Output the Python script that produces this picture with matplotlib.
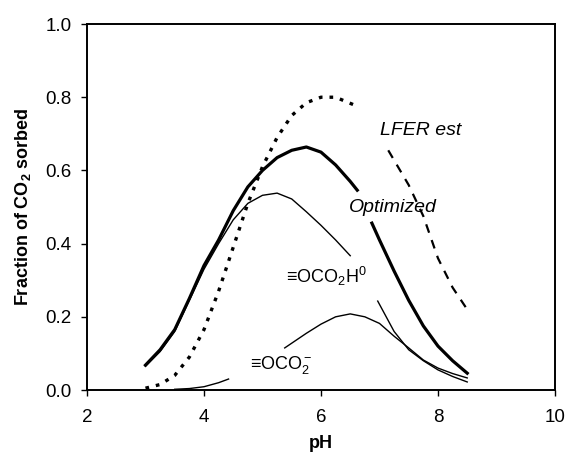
import matplotlib
matplotlib.use("Agg")
import matplotlib.pyplot as plt

plt.rcParams['font.family'] = ['Liberation Sans', 'DejaVu Sans']
plt.rcParams['mathtext.fontset'] = 'custom'
plt.rcParams['mathtext.rm'] = 'Liberation Sans'
plt.rcParams['mathtext.it'] = 'Liberation Sans:italic'
plt.rcParams['mathtext.bf'] = 'Liberation Sans:bold'

# ---- data ----
# Optimized total (thick solid), drawn in two pieces around its label
opt_ph_a = [3.0, 3.25, 3.5, 3.75, 4.0, 4.25, 4.5, 4.75, 5.0, 5.25, 5.5, 5.75, 6.0, 6.25, 6.5, 6.62]
opt_a = [0.068, 0.11, 0.165, 0.25, 0.34, 0.41, 0.49, 0.555, 0.60, 0.635, 0.655, 0.664, 0.65, 0.615, 0.57, 0.546]
opt_ph_b = [6.87, 7.0, 7.25, 7.5, 7.75, 8.0, 8.25, 8.5]
opt_b = [0.456, 0.41, 0.325, 0.245, 0.175, 0.12, 0.08, 0.046]

# LFER estimate (dotted, then dashed)
lfer_ph_a = [3.0, 3.25, 3.5, 3.75, 4.0, 4.25, 4.5, 4.75, 5.0, 5.25, 5.5, 5.75, 6.0, 6.25, 6.55]
lfer_a = [0.005, 0.015, 0.04, 0.09, 0.165, 0.27, 0.39, 0.51, 0.61, 0.69, 0.75, 0.785, 0.80, 0.80, 0.78]
lfer_ph_b = [7.15, 7.5, 7.75, 8.0, 8.25, 8.5]
lfer_b = [0.655, 0.56, 0.475, 0.36, 0.28, 0.22]

# =OCO2H0 species (thin solid)
h0_ph_a = [3.0, 3.25, 3.5, 3.75, 4.0, 4.25, 4.5, 4.75, 5.0, 5.25, 5.5, 5.75, 6.0, 6.25, 6.5]
h0_a = [0.065, 0.105, 0.16, 0.245, 0.33, 0.40, 0.465, 0.51, 0.532, 0.538, 0.522, 0.487, 0.45, 0.41, 0.367]
h0_ph_b = [6.97, 7.25, 7.5, 7.75, 8.0, 8.25, 8.5]
h0_b = [0.243, 0.16, 0.11, 0.08, 0.055, 0.037, 0.022]

# =OCO2- species (thin solid)
m_ph_a = [3.5, 3.75, 4.0, 4.25, 4.42]
m_a = [0.002, 0.004, 0.009, 0.02, 0.03]
m_ph_b = [5.38, 5.75, 6.0, 6.25, 6.5, 6.75, 7.0, 7.25, 7.5, 7.75, 8.0, 8.25, 8.5]
m_b = [0.115, 0.155, 0.18, 0.2, 0.208, 0.2, 0.182, 0.147, 0.115, 0.082, 0.06, 0.045, 0.033]

x_ticks = [2, 4, 6, 8, 10]
y_ticks = [0.0, 0.2, 0.4, 0.6, 0.8, 1.0]

# ---- figure ----
fig = plt.figure(figsize=(5.67, 4.62), dpi=100)
ax = fig.add_axes([0.1534, 0.1558, 0.8254, 0.7922])

ax.plot(opt_ph_a, opt_a, color='black', lw=2.3)
ax.plot(opt_ph_b, opt_b, color='black', lw=2.3)
ax.plot(lfer_ph_a, lfer_a, color='black', lw=2.4, linestyle=(0, (1.1, 2.1)))
ax.plot(lfer_ph_b, lfer_b, color='black', lw=1.6, linestyle=(0, (4, 3.5)))
ax.plot(h0_ph_a, h0_a, color='black', lw=1.0)
ax.plot(h0_ph_b, h0_b, color='black', lw=1.0)
ax.plot(m_ph_a, m_a, color='black', lw=1.0)
ax.plot(m_ph_b, m_b, color='black', lw=1.0)

ax.text(7.71, 0.71, 'LFER est', fontsize=14, style='italic', ha='center', va='center')
ax.text(7.23, 0.50, 'Optimized', fontsize=14, style='italic', ha='center', va='center')
ax.text(6.09, 0.31, '≡OCO$_2$H$^0$', fontsize=13, ha='center', va='center')
ax.text(5.32, 0.068, '≡OCO$_2^-$', fontsize=13, ha='center', va='center')

ax.set_xlim(2, 10)
ax.set_ylim(0, 1.0)
ax.set_xticks(x_ticks)
ax.set_yticks(y_ticks)
ax.set_xticklabels([str(t) for t in x_ticks])
ax.set_yticklabels([f'{t:.1f}' for t in y_ticks])
ax.tick_params(axis='both', direction='out', length=4, width=1.0, labelsize=13.5, color='black')
ax.tick_params(axis='x', pad=10)
ax.tick_params(axis='y', pad=7)
for s in ax.spines.values():
    s.set_linewidth(1.4)
    s.set_color('black')

ax.set_xlabel('pH', fontsize=13, fontweight='bold', labelpad=6)
ax.set_ylabel(r'Fraction of CO$_\mathbf{2}$ sorbed', fontsize=13, fontweight='bold', labelpad=9)

fig.savefig('out.png', dpi=100)
